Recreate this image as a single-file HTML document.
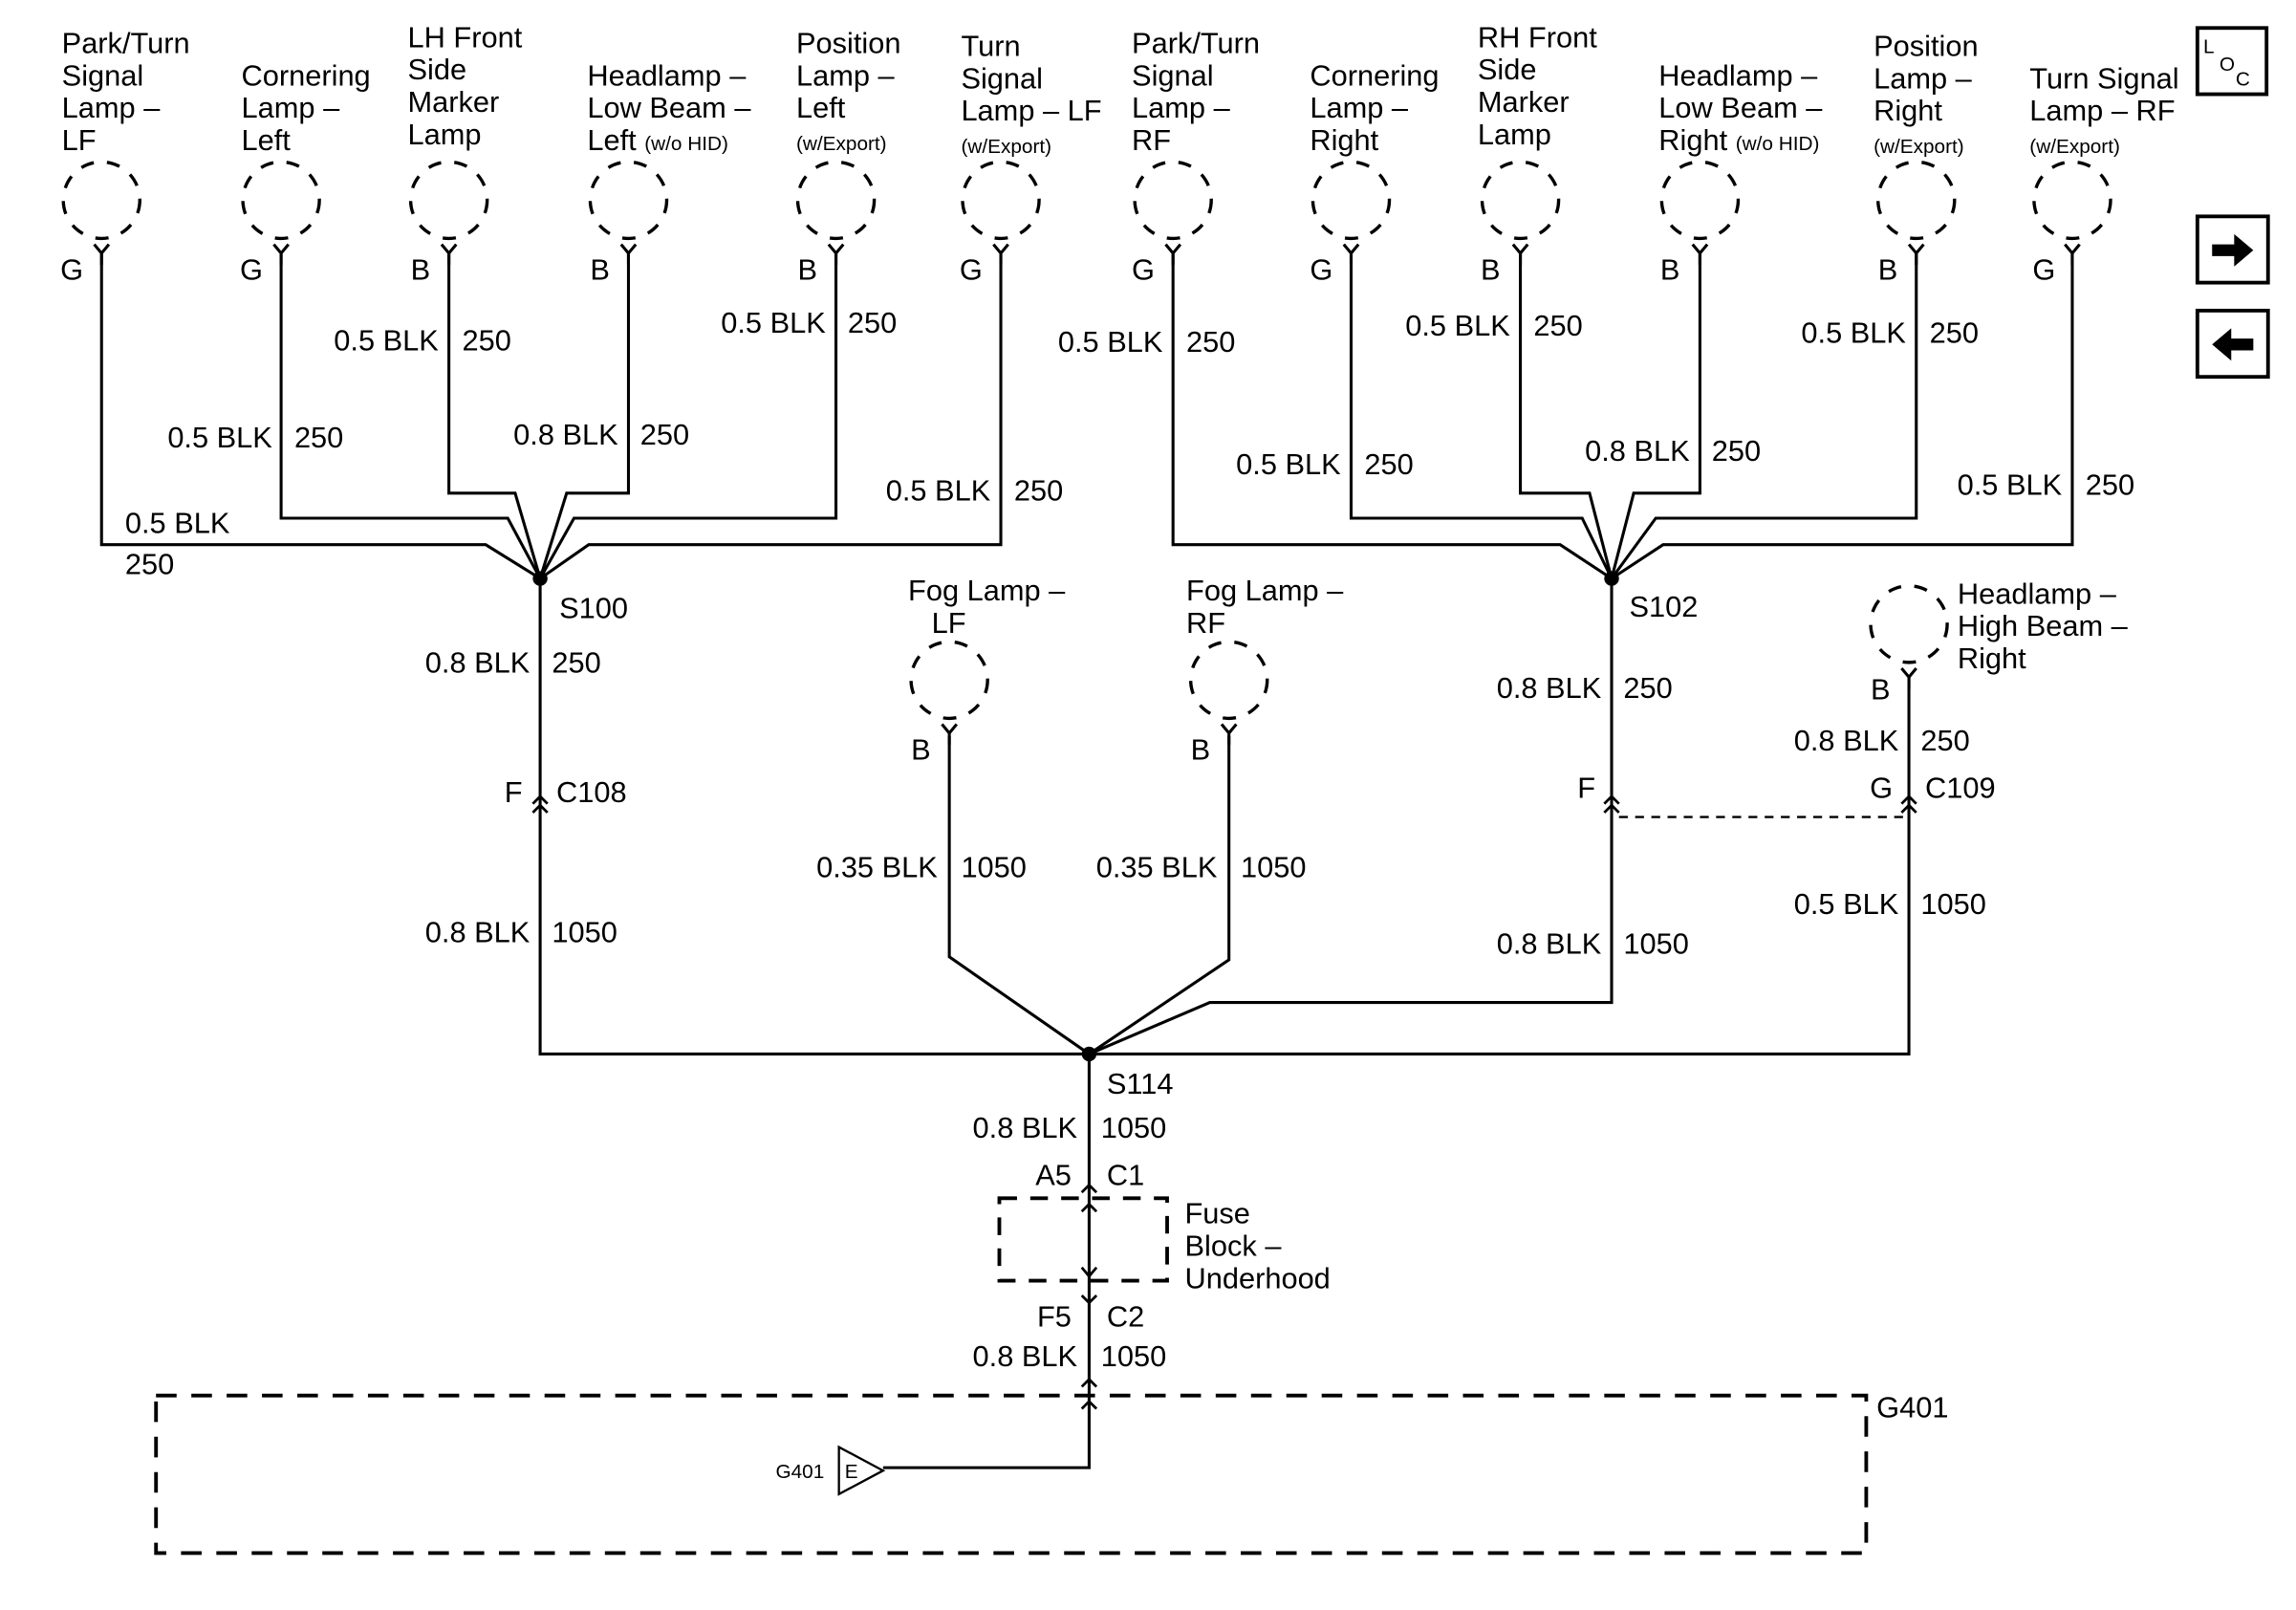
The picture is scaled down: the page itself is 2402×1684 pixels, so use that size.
<!DOCTYPE html>
<html><head><meta charset="utf-8"><style>
html,body{margin:0;padding:0;background:#fff;}
svg{display:block;}
text{font-family:"Liberation Sans",Arial,sans-serif;font-size:20px;fill:#000;}
.s{font-size:13.5px;}
</style></head><body>
<svg width="2402" height="1684" viewBox="0 0 1560 1093.7" preserveAspectRatio="none" xmlns="http://www.w3.org/2000/svg">
<defs>
<g id="lamp"><circle cx="0" cy="0" r="26" fill="none" stroke="#000" stroke-width="2.2" stroke-dasharray="9 9"/><path d="M-5,30 L0,36 L5,30 M0,36 V44" fill="none" stroke="#000" stroke-width="2"/></g>
<path id="chev" d="M-5,5 L0,0 L5,5" fill="none" stroke="#000" stroke-width="1.8"/>
</defs>
<g fill="none" stroke="#000" stroke-width="2">
<path d="M69,172 V370 H330 L367,393"/>
<path d="M191,172 V352 H345 L367,393"/>
<path d="M305,172 V335 H350 L367,393"/>
<path d="M427,172 V335 H385 L367,393"/>
<path d="M568,172 V352 H390 L367,393"/>
<path d="M680,172 V370 H400 L367,393"/>
<path d="M797,172 V370 H1060 L1095,393"/>
<path d="M918,172 V352 H1075 L1095,393"/>
<path d="M1033,172 V335 H1080 L1095,393"/>
<path d="M1155,172 V335 H1110 L1095,393"/>
<path d="M1302,172 V352 H1125 L1095,393"/>
<path d="M1408,172 V370 H1130 L1095,393"/>
<path d="M367,393 V716 H1297 V460"/>
<path d="M1095,393 V681 H822 L740,716"/>
<path d="M645,500 V650 L740,716"/>
<path d="M835,500 V652 L740,716"/>
<path d="M740,716 V997 H600"/>
<path d="M1100,555 H1297" stroke-dasharray="6 5" stroke-width="1.5"/>
<rect x="679" y="814" width="114" height="56" stroke-dasharray="12 9" stroke-width="2.5"/>
<rect x="106" y="948" width="1162" height="107" stroke-dasharray="14 10" stroke-width="2.5"/>
<path d="M570,983 L570,1015 L600,999 Z" stroke-width="1.5"/>
<rect x="1493" y="19" width="47" height="45" stroke-width="2.5"/>
<rect x="1493" y="147" width="48" height="45" stroke-width="2.5"/>
<rect x="1493" y="211" width="48" height="45" stroke-width="2.5"/>
</g>
<path d="M1503,166 H1518 V159 L1531,170 L1518,181 V174 H1503 Z"/>
<path d="M1531,230 H1516 V223 L1503,234 L1516,245 V238 H1531 Z"/>
<circle cx="367" cy="393" r="5"/><circle cx="1095" cy="393" r="5"/><circle cx="740" cy="716" r="5"/>
<use href="#lamp" x="69" y="136"/><use href="#lamp" x="191" y="136"/><use href="#lamp" x="305" y="136"/>
<use href="#lamp" x="427" y="136"/><use href="#lamp" x="568" y="136"/><use href="#lamp" x="680" y="136"/>
<use href="#lamp" x="797" y="136"/><use href="#lamp" x="918" y="136"/><use href="#lamp" x="1033" y="136"/>
<use href="#lamp" x="1155" y="136"/><use href="#lamp" x="1302" y="136"/><use href="#lamp" x="1408" y="136"/>
<use href="#lamp" x="645" y="462"/><use href="#lamp" x="835" y="462"/><use href="#lamp" x="1297" y="424"/>
<use href="#chev" x="367" y="541"/><use href="#chev" x="367" y="547"/>
<use href="#chev" x="1095" y="541"/><use href="#chev" x="1095" y="547"/>
<use href="#chev" x="1297" y="541"/><use href="#chev" x="1297" y="547"/>
<use href="#chev" x="740" y="805"/><use href="#chev" x="740" y="818"/>
<path d="M735,861 L740,867 L745,861 M735,880 L740,885 L745,880" fill="none" stroke="#000" stroke-width="1.8"/>
<use href="#chev" x="740" y="937"/><use href="#chev" x="740" y="952"/>
<text x="42" y="36">Park/Turn<tspan x="42" dy="22">Signal</tspan><tspan x="42" dy="22">Lamp –</tspan><tspan x="42" dy="22">LF</tspan></text>
<text x="164" y="58">Cornering<tspan x="164" dy="22">Lamp –</tspan><tspan x="164" dy="22">Left</tspan></text>
<text x="277" y="32">LH Front<tspan x="277" dy="22">Side</tspan><tspan x="277" dy="22">Marker</tspan><tspan x="277" dy="22">Lamp</tspan></text>
<text x="399" y="58">Headlamp –<tspan x="399" dy="22">Low Beam –</tspan><tspan x="399" dy="22">Left <tspan class="s">(w/o HID)</tspan></tspan></text>
<text x="541" y="36">Position<tspan x="541" dy="22">Lamp –</tspan><tspan x="541" dy="22">Left</tspan><tspan x="541" dy="22" class="s">(w/Export)</tspan></text>
<text x="653" y="38">Turn<tspan x="653" dy="22">Signal</tspan><tspan x="653" dy="22">Lamp – LF</tspan><tspan x="653" dy="22" class="s">(w/Export)</tspan></text>
<text x="769" y="36">Park/Turn<tspan x="769" dy="22">Signal</tspan><tspan x="769" dy="22">Lamp –</tspan><tspan x="769" dy="22">RF</tspan></text>
<text x="890" y="58">Cornering<tspan x="890" dy="22">Lamp –</tspan><tspan x="890" dy="22">Right</tspan></text>
<text x="1004" y="32">RH Front<tspan x="1004" dy="22">Side</tspan><tspan x="1004" dy="22">Marker</tspan><tspan x="1004" dy="22">Lamp</tspan></text>
<text x="1127" y="58">Headlamp –<tspan x="1127" dy="22">Low Beam –</tspan><tspan x="1127" dy="22">Right <tspan class="s">(w/o HID)</tspan></tspan></text>
<text x="1273" y="38">Position<tspan x="1273" dy="22">Lamp –</tspan><tspan x="1273" dy="22">Right</tspan><tspan x="1273" dy="22" class="s">(w/Export)</tspan></text>
<text x="1379" y="60">Turn Signal<tspan x="1379" dy="22">Lamp – RF</tspan><tspan x="1379" dy="22" class="s">(w/Export)</tspan></text>
<text x="617" y="408">Fog Lamp –<tspan x="633" dy="22">LF</tspan></text>
<text x="806" y="408">Fog Lamp –<tspan x="806" dy="22">RF</tspan></text>
<text x="1330" y="410">Headlamp –<tspan x="1330" dy="22">High Beam –</tspan><tspan x="1330" dy="22">Right</tspan></text>
<text x="805" y="831">Fuse<tspan x="805" dy="22">Block –</tspan><tspan x="805" dy="22">Underhood</tspan></text>
<text x="41" y="190">G</text><text x="163" y="190">G</text><text x="279" y="190">B</text><text x="401" y="190">B</text>
<text x="542" y="190">B</text><text x="652" y="190">G</text><text x="769" y="190">G</text><text x="890" y="190">G</text>
<text x="1006" y="190">B</text><text x="1128" y="190">B</text><text x="1276" y="190">B</text><text x="1381" y="190">G</text>
<text x="619" y="516">B</text><text x="809" y="516">B</text><text x="1271" y="475">B</text>
<g text-anchor="end">
<text x="298" y="238">0.5 BLK</text><text x="185" y="304">0.5 BLK</text><text x="420" y="302">0.8 BLK</text>
<text x="561" y="226">0.5 BLK</text><text x="673" y="340">0.5 BLK</text>
<text x="790" y="239">0.5 BLK</text><text x="911" y="322">0.5 BLK</text><text x="1026" y="228">0.5 BLK</text>
<text x="1148" y="313">0.8 BLK</text><text x="1295" y="233">0.5 BLK</text><text x="1401" y="336">0.5 BLK</text>
<text x="360" y="457">0.8 BLK</text><text x="355" y="545">F</text><text x="360" y="640">0.8 BLK</text>
<text x="1088" y="474">0.8 BLK</text><text x="1084" y="542">F</text><text x="1088" y="648">0.8 BLK</text>
<text x="1290" y="510">0.8 BLK</text><text x="1286" y="542">G</text><text x="1290" y="621">0.5 BLK</text>
<text x="637" y="596">0.35 BLK</text><text x="827" y="596">0.35 BLK</text>
<text x="732" y="773">0.8 BLK</text><text x="728" y="805">A5</text><text x="728" y="901">F5</text><text x="732" y="928">0.8 BLK</text>
</g>
<text x="85" y="362">0.5 BLK</text><text x="85" y="390">250</text>
<text x="314" y="238">250</text><text x="200" y="304">250</text><text x="435" y="302">250</text>
<text x="576" y="226">250</text><text x="689" y="340">250</text>
<text x="806" y="239">250</text><text x="927" y="322">250</text><text x="1042" y="228">250</text>
<text x="1163" y="313">250</text><text x="1311" y="233">250</text><text x="1417" y="336">250</text>
<text x="375" y="457">250</text><text x="378" y="545">C108</text><text x="375" y="640">1050</text>
<text x="1103" y="474">250</text><text x="1103" y="648">1050</text>
<text x="1305" y="510">250</text><text x="1308" y="542">C109</text><text x="1305" y="621">1050</text>
<text x="653" y="596">1050</text><text x="843" y="596">1050</text>
<text x="380" y="420">S100</text><text x="1107" y="419">S102</text><text x="752" y="743">S114</text>
<text x="748" y="773">1050</text><text x="752" y="805">C1</text><text x="752" y="901">C2</text><text x="748" y="928">1050</text>
<text x="1275" y="963">G401</text>
<text x="527" y="1004" class="s">G401</text><text x="574" y="1004" class="s">E</text>
<text x="1497" y="36" class="s">L</text><text x="1508" y="48" class="s">O</text><text x="1519" y="58" class="s">C</text>
</svg>
</body></html>
